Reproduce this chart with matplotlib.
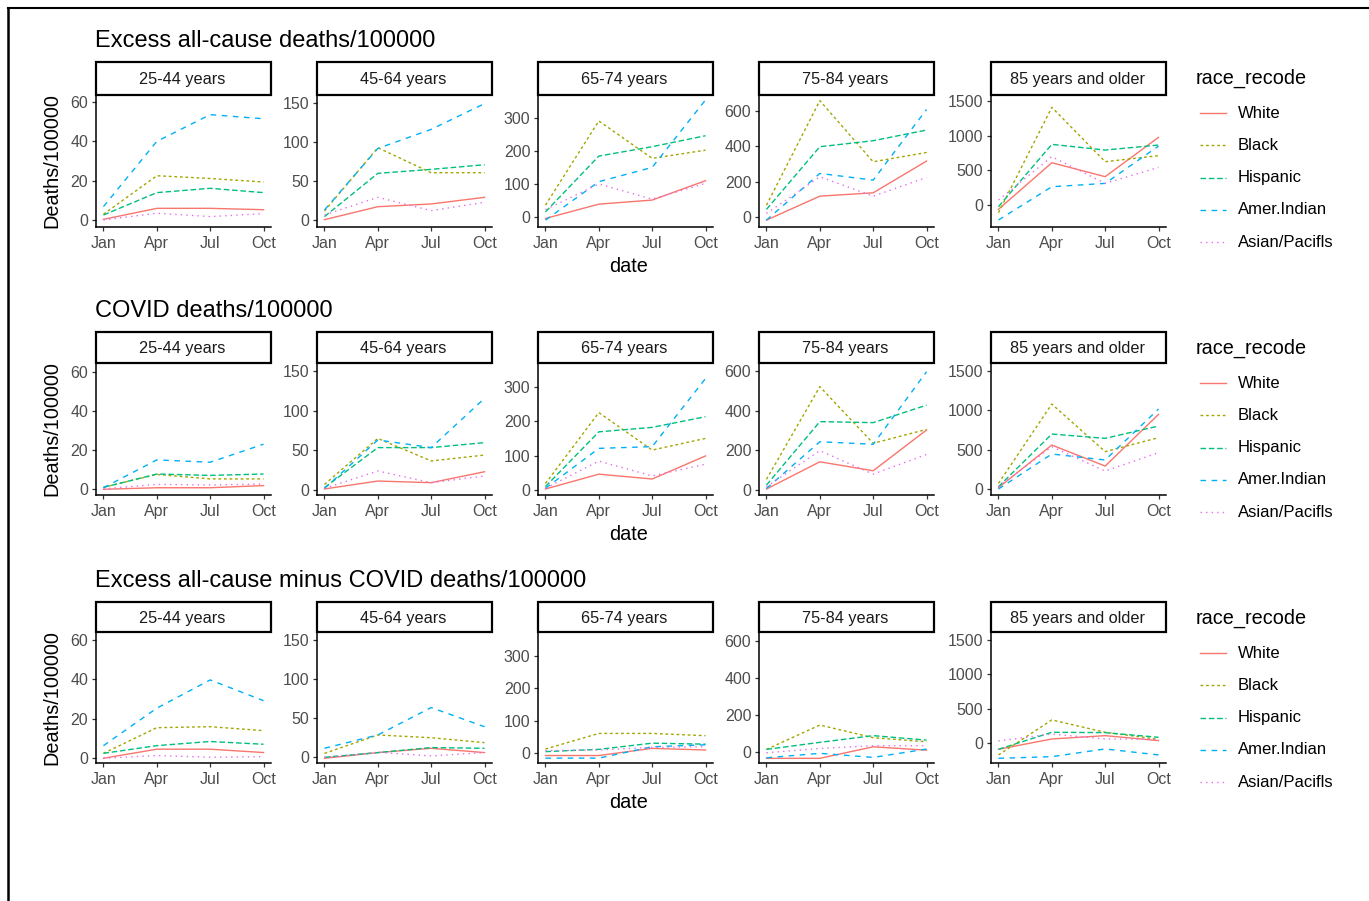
import matplotlib
matplotlib.use("Agg")
import matplotlib.pyplot as plt
from matplotlib.patches import Rectangle
from matplotlib.lines import Line2D

# categories
months = ["Jan", "Apr", "Jul", "Oct"]
age_groups = ["25-44 years", "45-64 years", "65-74 years", "75-84 years", "85 years and older"]
races = ["White", "Black", "Hispanic", "Amer.Indian", "Asian/Pacifls"]

# Excess all-cause deaths/100000 (one list per age group: Jan, Apr, Jul, Oct)
excess_white = [[0.3, 5.9, 5.9, 5.2], [0.4, 17, 20.5, 29], [-5, 38.6, 51, 110], [-19, 117, 136, 316], [-62, 610, 409, 976]]
excess_black = [[2.9, 22.5, 21.1, 19.3], [11.5, 92.5, 60.5, 60.5], [35.6, 292, 178, 203], [66, 659, 312, 365], [-110, 1409, 625, 712]]
excess_hisp = [[2.5, 13.9, 16.1, 13.9], [4.3, 59.7, 64.8, 70.7], [15, 185, 213.6, 247], [42, 397.5, 431.6, 492], [-24, 875, 793, 865]]
excess_amind = [[6.8, 40, 53.6, 51.5], [12.8, 91.6, 116, 149], [-10, 107, 150.5, 356], [-19, 246, 208, 609], [-216, 264, 312, 850]]
excess_asian = [[0, 3.4, 1.7, 3.2], [6.4, 29, 12, 22.6], [22, 100, 54, 102], [19, 227, 117, 223], [72, 697, 312, 543]]

# COVID deaths/100000
covid_white = [[0, 0.8, 0.8, 1.9], [1.3, 11.3, 9.2, 23], [3, 46, 32, 99], [5, 142, 97, 302], [17, 559, 292, 949]]
covid_black = [[1, 7.6, 5.3, 5.3], [7, 65, 36.6, 44], [19, 225, 116, 150], [54, 520, 235, 305], [72, 1080, 475, 653]]
covid_hisp = [[1, 7.8, 7.1, 7.8], [3, 53.4, 53.4, 59.7], [10, 169, 182, 213], [25, 344, 339, 427], [30, 699, 644, 801]]
covid_amind = [[0.8, 15, 13.8, 23], [2, 63, 53.4, 115.5], [5, 121, 126, 324], [8, 243, 230, 595], [0, 445, 369, 1017]]
covid_asian = [[0.2, 2.5, 2.2, 2.7], [2, 24, 9.2, 17.6], [5, 84, 41, 75], [17, 198, 80, 179], [30, 538, 229, 462]]

# Excess all-cause minus COVID deaths/100000
minus_white = [[0, 4.6, 4.6, 2.9], [-1.3, 6, 11.5, 6], [-7, -7, 15, 10], [-32, -32, 30, 12], [-87, 63, 111, 39]]
minus_black = [[2.5, 15.5, 16, 14], [5, 28.5, 25, 18.7], [13, 61, 61, 54], [16, 147, 79, 57], [-169, 339, 160, 58]]
minus_hisp = [[2.5, 6.4, 8.5, 7.1], [0, 6, 12.4, 11.5], [5, 12, 31, 28], [16, 54, 90, 66], [-87, 160, 155, 87]]
minus_amind = [[6.4, 25.4, 39.7, 29.2], [11.5, 28.5, 63.5, 39], [-15, -15, 20, 26], [-29, -5, -27, 18], [-218, -194, -82, -169]]
minus_asian = [[0, 1.4, 0.5, 0.8], [0, 6.4, 1.7, 6], [8, 10, 18, 20], [-2, 21, 36, 36], [34, 135, 63, 58]]

titles = ["Excess all-cause deaths/100000", "COVID deaths/100000", "Excess all-cause minus COVID deaths/100000"]
row_data = [
    [excess_white, excess_black, excess_hisp, excess_amind, excess_asian],
    [covid_white, covid_black, covid_hisp, covid_amind, covid_asian],
    [minus_white, minus_black, minus_hisp, minus_amind, minus_asian],
]

# per panel y limits and breaks
ylims = [
    [(-3.6, 63.6), (-9, 160), (-31, 371), (-58, 691), (-317, 1587)],
    [(-2.9, 64.4), (-6.3, 160), (-14.5, 369), (-25, 639), (-76, 1602)],
    [(-2.4, 64), (-7.3, 160), (-30, 373), (-57, 647), (-286, 1616)],
]
ybreaks = [[0, 20, 40, 60], [0, 50, 100, 150], [0, 100, 200, 300], [0, 200, 400, 600], [0, 500, 1000, 1500]]

colors = ["#F8766D", "#A3A500", "#00BF7D", "#00B0F6", "#E76BF3"]
dashes = [None, (2, 2), (4, 2), (4, 4), (1, 3)]

W, H = 1369, 901
fig = plt.figure(figsize=(W / 100, H / 100), dpi=100)
plt.rcParams['font.family'] = ['Liberation Sans', 'DejaVu Sans']


def fx(x):
    return x / W


def fy(y):
    return 1 - y / H


col_left = [96, 317, 538, 759, 991]
panel_w = 175
strip_top = [62, 332, 602]
panel_top = [95, 363, 632]
panel_bot = [227, 495, 763]

for r in range(3):
    fig.text(fx(95), fy(strip_top[r] - 21), titles[r], fontsize=17, ha="left", va="center", color="black")
    for c in range(5):
        x0 = col_left[c]
        ax = fig.add_axes([fx(x0), fy(panel_bot[r]), panel_w / W, (panel_bot[r] - panel_top[r]) / H])
        for k in range(5):
            ln, = ax.plot(range(4), row_data[r][k][c], color=colors[k], lw=1.0)
            if dashes[k] is not None:
                ln.set_dashes(dashes[k])
        ax.set_xlim(-0.14, 3.14)
        ax.set_ylim(*ylims[r][c])
        ax.set_xticks(range(4))
        ax.set_xticklabels(months)
        ax.set_yticks(ybreaks[c])
        ax.spines["top"].set_visible(False)
        ax.spines["right"].set_visible(False)
        for s in ["left", "bottom"]:
            ax.spines[s].set_linewidth(1.1)
            ax.spines[s].set_color("black")
        ax.tick_params(length=3, width=0.9, color="#333333", labelsize=11.5,
                       labelcolor="#4D4D4D", pad=2.5)
        ax.tick_params(axis="x", pad=3.5)
        # strip
        fig.patches.append(Rectangle((fx(x0), fy(panel_top[r])), panel_w / W,
                                     (panel_top[r] - strip_top[r]) / H, transform=fig.transFigure,
                                     facecolor="white", edgecolor="black", linewidth=1.6))
        fig.text(fx(x0 + panel_w / 2 - 1), fy((strip_top[r] + panel_top[r]) / 2 + 1), age_groups[c],
                 fontsize=11.7, ha="center", va="center", color="#1A1A1A")
    fig.text(fx(52), fy((panel_top[r] + panel_bot[r]) / 2), "Deaths/100000", rotation=90,
             fontsize=14.3, ha="center", va="center", color="black")
    fig.text(fx(629), fy(panel_bot[r] + 40), "date", fontsize=14.3, ha="center", va="center", color="black")
    # legend
    fig.text(fx(1196), fy(strip_top[r] + 16), "race_recode", fontsize=14.3, ha="left", va="center", color="black")
    for k in range(5):
        ly = strip_top[r] + 51 + k * 32.3
        key = Line2D([fx(1200), fx(1226)], [fy(ly), fy(ly)], transform=fig.transFigure,
                     color=colors[k], lw=1.0)
        if dashes[k] is not None:
            key.set_dashes(dashes[k])
        fig.lines.append(key)
        fig.text(fx(1238), fy(ly), races[k], fontsize=12, ha="left", va="center", color="black")

# outer frame lines of the screenshot
fig.lines.append(Line2D([fx(8), fx(1369)], [fy(8), fy(8)], transform=fig.transFigure, color="black", lw=1.5))
fig.lines.append(Line2D([fx(8), fx(8)], [fy(8), fy(901)], transform=fig.transFigure, color="black", lw=1.8))

fig.savefig("out.png", dpi=100)
